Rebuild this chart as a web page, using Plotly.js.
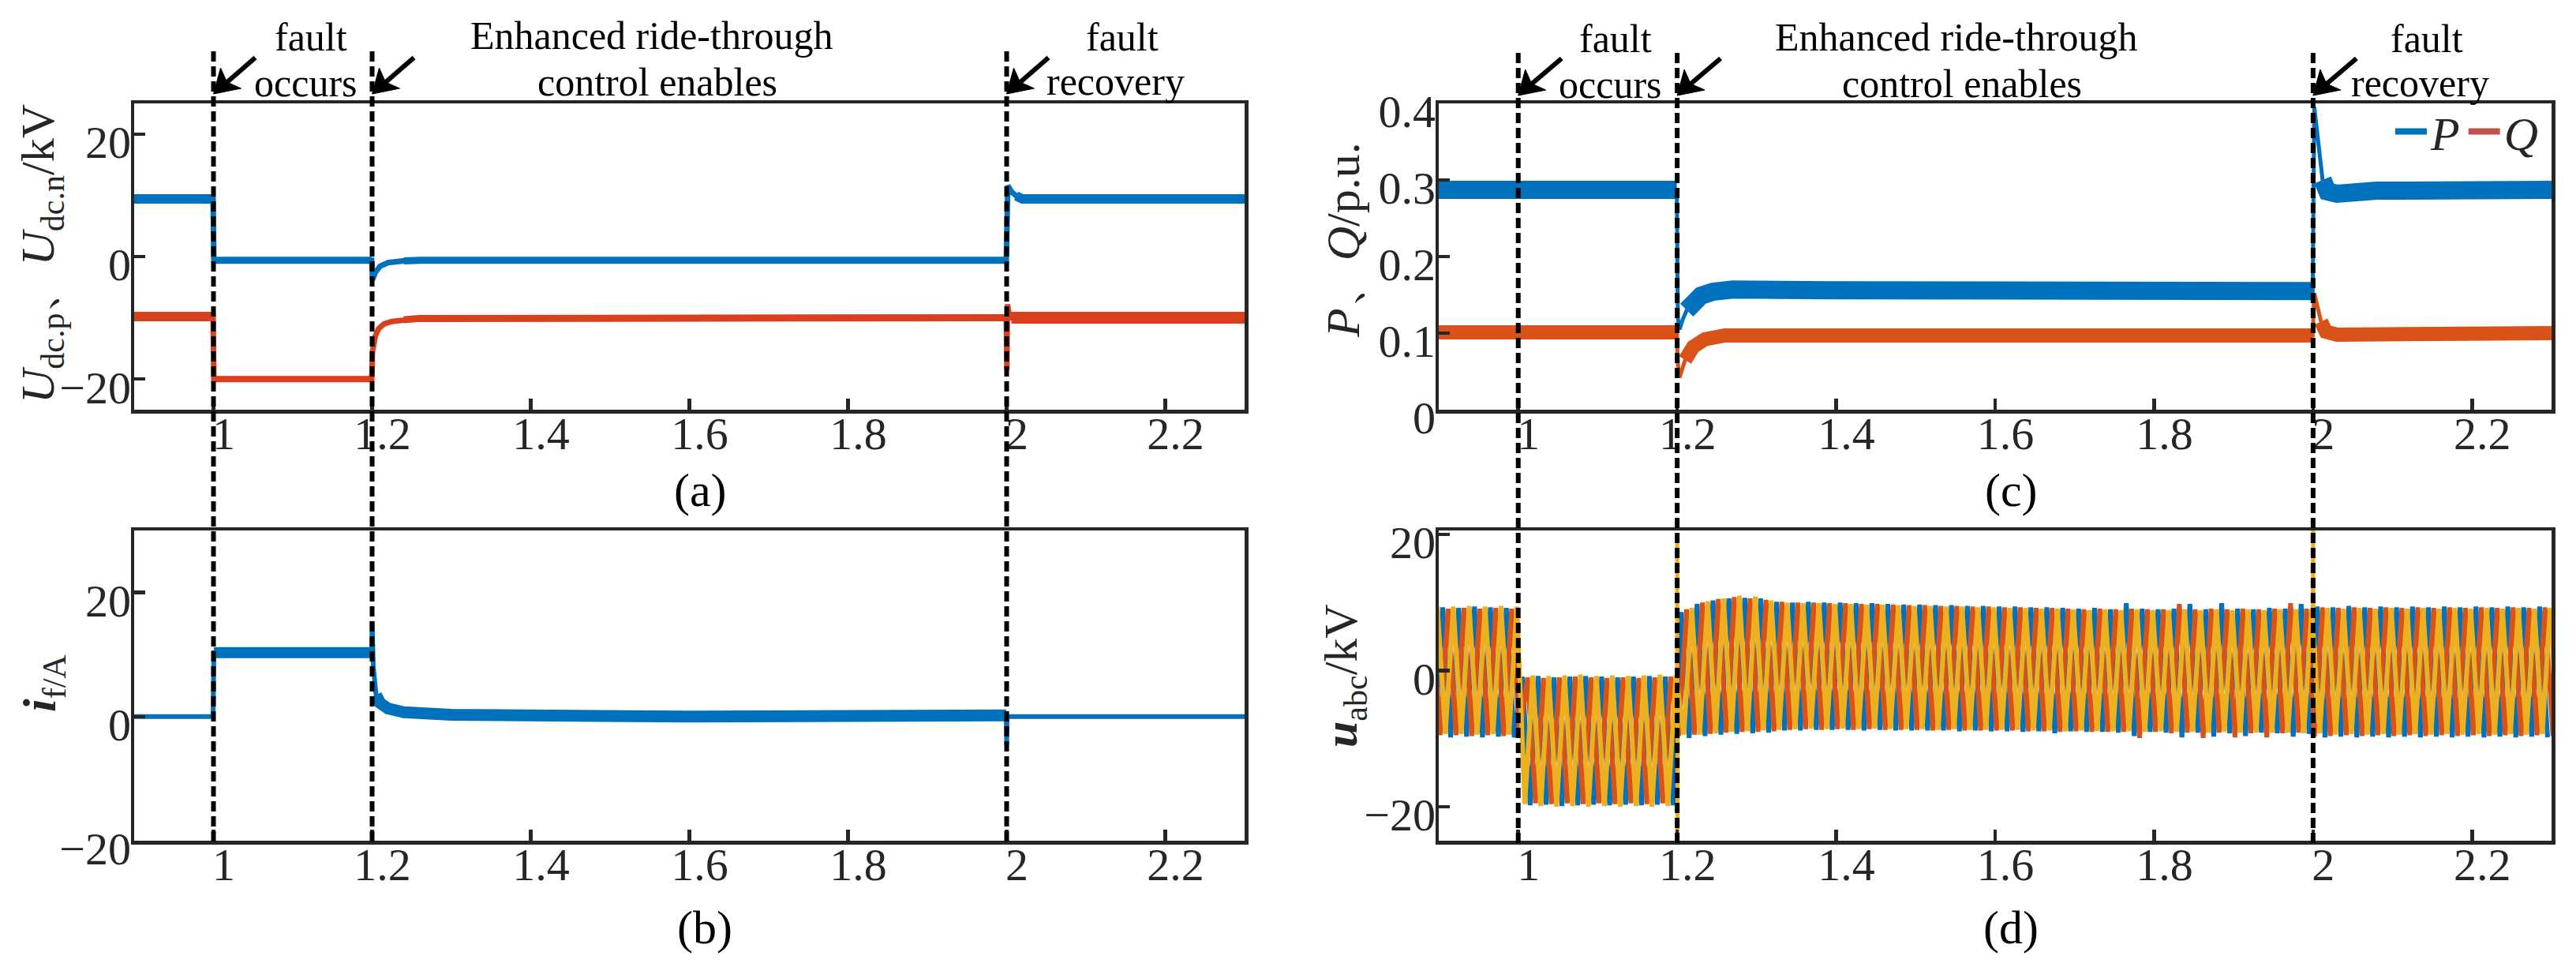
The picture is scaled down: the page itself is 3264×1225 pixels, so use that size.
<!DOCTYPE html>
<html><head><meta charset="utf-8">
<script src="https://cdn.plot.ly/plotly-3.0.1.min.js"></script>
<style>html,body{margin:0;padding:0;background:#fff}</style>
</head><body>
<div id="chart" style="width:3264px;height:1225px"></div>
<script>
// ================= DATA =================
// event instants (s): fault occurs, enhanced ride-through enabled, fault recovery
const eventTimes = [1.0, 1.2, 2.0];

// x axis ticks (time, s)
const xTickVals = [1, 1.2, 1.4, 1.6, 1.8, 2, 2.2];
const xTickText = ['1', '1.2', '1.4', '1.6', '1.8', '2', '2.2'];

// (a) DC pole voltages, kV
const udcNTime  = [0.9, 0.9995, 1.0005, 1.1995, 1.2005, 1.204, 1.21, 1.22, 1.24, 1.26, 1.9995, 2.0015, 2.006, 2.012, 2.02, 2.3];
const udcNValue = [9.4, 9.4, -0.6, -0.6, -3.8, -2.6, -1.6, -1.0, -0.7, -0.6, -0.6, 11.6, 10.6, 9.9, 9.4, 9.4];
const udcPTime  = [0.9, 0.9995, 1.0005, 1.1995, 1.2005, 1.204, 1.208, 1.215, 1.225, 1.24, 1.26, 1.9995, 2.0003, 2.001, 2.003, 2.006, 2.3];
const udcPValue = [-9.8, -9.8, -20.0, -20.0, -15.5, -13.0, -11.8, -11.0, -10.6, -10.3, -10.1, -10.0, -18.5, -7.8, -9.3, -10.0, -10.0];
const yTickA = [-20, 0, 20];
const yTickTextA = ['\u221220', '0', '20'];

// (b) fault current, A
const ifTime  = [0.9, 0.9995, 1.0005, 1.1995, 1.2, 1.2015, 1.205, 1.21, 1.22, 1.24, 1.3, 1.6, 1.9995, 2.0, 2.0005, 2.3];
const ifValue = [0, 0, 10.3, 10.3, 15.4, 8.0, 3.5, 2.2, 1.3, 0.7, 0.3, 0.0, 0.2, -4.5, 0, 0];
const yTickB = [-20, 0, 20];
const yTickTextB = ['\u221220', '0', '20'];

// (c) active / reactive power, p.u.
const pTime  = [0.9, 1.1995, 1.2008, 1.203, 1.207, 1.212, 1.22, 1.23, 1.245, 1.27, 1.4, 1.9995, 2.0015, 2.004, 2.008, 2.012, 2.018, 2.03, 2.05, 2.08, 2.3];
const pValue = [0.287, 0.287, 0.12, 0.105, 0.118, 0.13, 0.142, 0.149, 0.154, 0.157, 0.156, 0.155, 0.395, 0.37, 0.33, 0.30, 0.285, 0.282, 0.283, 0.286, 0.287];
const qTime  = [0.9, 1.1995, 1.2008, 1.203, 1.206, 1.21, 1.22, 1.235, 1.26, 1.9995, 2.0015, 2.005, 2.01, 2.016, 2.03, 2.3];
const qValue = [0.101, 0.101, 0.06, 0.042, 0.052, 0.065, 0.082, 0.092, 0.097, 0.097, 0.152, 0.135, 0.115, 0.102, 0.098, 0.1];
const yTickC = [0, 0.1, 0.2, 0.3, 0.4];
const yTickTextC = ['0', '0.1', '0.2', '0.3', '0.4'];

// (d) three-phase AC voltage, kV: half-cycle peak instants of phase a (s)
const uPeakTime = [
  0.885, 0.895,
  0.905, 0.915, 0.925, 0.935, 0.945, 0.955, 0.965, 0.975, 0.985, 0.995,
  1.005, 1.015, 1.025, 1.035, 1.045, 1.055, 1.065, 1.075, 1.085, 1.095,
  1.105, 1.115, 1.125, 1.135, 1.145, 1.155, 1.165, 1.175, 1.185, 1.195,
  1.205, 1.215, 1.225, 1.235, 1.245, 1.255, 1.265, 1.275, 1.285, 1.295,
  1.305, 1.315, 1.325, 1.335, 1.345, 1.355, 1.365, 1.375, 1.385, 1.395,
  1.405, 1.415, 1.425, 1.435, 1.445, 1.455, 1.465, 1.475, 1.485, 1.495,
  1.505, 1.515, 1.525, 1.535, 1.545, 1.555, 1.565, 1.575, 1.585, 1.595,
  1.605, 1.615, 1.625, 1.635, 1.645, 1.655, 1.665, 1.675, 1.685, 1.695,
  1.705, 1.715, 1.725, 1.735, 1.745, 1.755, 1.765, 1.775, 1.785, 1.795,
  1.805, 1.815, 1.825, 1.835, 1.845, 1.855, 1.865, 1.875, 1.885, 1.895,
  1.905, 1.915, 1.925, 1.935, 1.945, 1.955, 1.965, 1.975, 1.985, 1.995,
  2.005, 2.015, 2.025, 2.035, 2.045, 2.055, 2.065, 2.075, 2.085, 2.095,
  2.105, 2.115, 2.125, 2.135, 2.145, 2.155, 2.165, 2.175, 2.185, 2.195,
  2.205, 2.215, 2.225, 2.235, 2.245, 2.255, 2.265, 2.275, 2.285, 2.295
];
// phase lag of phases a, b, c behind phase a (s)
const phaseLag = [0, 0.0067, 0.0133];
// alternating crest / trough values of each phase (kV)
const uaPeak = [
  9.3, -9.8,
  9.3, -9.8, 9.2, -9.7, 9.4, -9.8, 9.3, -9.7, 9.2, -9.8,
  -0.9, -19.8, -0.8, -19.7, -1.0, -19.9, -0.9, -19.8, -0.8, -19.7,
  -0.9, -19.8, -1.0, -19.7, -0.9, -19.8, -0.8, -19.7, -0.9, -19.8,
  8.6, -9.9, 9.8, -9.6, 10.3, -9.4, 10.6, -9.3, 10.7, -9.2,
  10.6, -9.1, 10.1, -8.8, 10.0, -8.8, 10.1, -8.7, 10.0, -8.7,
  10.0, -8.7, 9.9, -8.8, 9.9, -8.7, 9.8, -8.8, 9.7, -8.8,
  9.7, -8.8, 9.6, -8.8, 9.6, -8.9, 9.5, -8.8, 9.5, -8.9,
  9.4, -8.9, 9.4, -9.0, 9.3, -8.9, 9.3, -9.2, 9.2, -8.9,
  9.1, -9.0, 9.2, -9.0, 9.0, -9.1, 9.9, -9.6, 9.1, -9.0,
  9.0, -9.1, 9.1, -9.8, 9.8, -9.1, 9.0, -9.7, 9.9, -9.2,
  9.1, -9.6, 9.0, -9.1, 9.2, -9.2, 9.1, -9.7, 9.8, -9.3,
  9.4, -9.8, 9.3, -9.7, 9.5, -9.8, 9.3, -9.7, 9.4, -9.8,
  9.3, -9.7, 9.4, -9.8, 9.3, -9.7, 9.4, -9.8, 9.3, -9.7,
  9.4, -9.8, 9.3, -9.7, 9.4, -9.8, 9.3, -9.7, 9.4, -9.8
];
const ubPeak = [
  9.2, -9.5,
  9.1, -9.5, 9.2, -9.6, 9.1, -9.5, 9.2, -9.6, 9.1, -9.4,
  -1.0, -19.5, -1.1, -19.6, -1.0, -19.5, -0.9, -19.6, -1.0, -19.5,
  -1.1, -19.6, -1.0, -19.5, -1.1, -19.6, -1.0, -19.5, -0.9, -9.6,
  9.0, -9.4, 10.0, -9.3, 10.5, -9.1, 10.8, -9.0, 10.6, -9.0,
  10.4, -8.9, 10.1, -8.7, 10.0, -8.6, 10.0, -8.7, 9.9, -8.6,
  9.9, -8.7, 9.8, -8.6, 9.8, -8.7, 9.7, -8.7, 9.6, -8.7,
  9.6, -8.8, 9.5, -8.7, 9.5, -8.8, 9.4, -8.8, 9.4, -8.8,
  9.3, -8.8, 9.3, -8.9, 9.2, -8.9, 9.2, -9.0, 9.1, -8.9,
  9.0, -9.0, 9.1, -9.0, 9.0, -9.0, 9.1, -9.9, 9.0, -9.0,
  9.0, -9.2, 9.8, -9.1, 9.0, -9.9, 9.1, -9.1, 9.0, -9.8,
  9.1, -9.2, 9.0, -9.8, 9.1, -9.2, 9.9, -9.1, 9.1, -9.7,
  9.3, -9.6, 9.2, -9.5, 9.3, -9.6, 9.2, -9.5, 9.3, -9.6,
  9.2, -9.5, 9.3, -9.6, 9.2, -9.5, 9.3, -9.6, 9.2, -9.5,
  9.3, -9.6, 9.2, -9.5, 9.3, -9.6, 9.2, -9.5, 9.3, -9.6
];
const ucPeak = [
  9.4, -9.3,
  9.4, -9.3, 9.5, -9.4, 9.4, -9.3, 9.5, -9.4, 9.4, -19.6,
  -0.7, -19.9, -0.8, -20.0, -0.7, -19.9, -0.6, -20.0, -0.8, -19.9,
  -0.7, -20.0, -0.8, -19.9, -0.7, -20.0, -0.6, -19.9, -0.7, -9.4,
  9.2, -9.4, 10.2, -9.2, 10.6, -9.0, 11.0, -8.9, 10.9, -8.8,
  10.3, -8.7, 10.0, -8.6, 9.9, -8.5, 9.9, -8.6, 9.8, -8.5,
  9.8, -8.6, 9.7, -8.5, 9.7, -8.6, 9.6, -8.6, 9.5, -8.6,
  9.5, -8.7, 9.4, -8.6, 9.4, -8.7, 9.3, -8.7, 9.3, -8.7,
  9.2, -8.7, 9.2, -8.8, 9.1, -8.8, 9.1, -8.9, 9.0, -8.8,
  8.9, -8.9, 9.0, -8.9, 8.9, -8.9, 9.0, -9.0, 8.9, -8.9,
  8.9, -9.0, 9.0, -9.0, 8.9, -9.1, 9.0, -9.0, 8.9, -9.1,
  9.0, -9.1, 8.9, -9.1, 9.0, -9.1, 9.0, -9.2, 9.0, -9.2,
  9.2, -9.4, 9.1, -9.3, 9.2, -9.4, 9.1, -9.3, 9.2, -9.4,
  9.1, -9.3, 9.2, -9.4, 9.1, -9.3, 9.2, -9.4, 9.1, -9.3,
  9.2, -9.4, 9.1, -9.3, 9.2, -9.4, 9.1, -9.3, 9.2, -9.4
];
// switching transients seen on the AC voltage
const uSpikeTime  = [1.1996, 1.2, 1.2004, 1.2008, null, 1.9996, 2.0, 2.0004];
const uSpikeValue = [-8, 19, -25, -5, null, 8, 20.6, 8];
const yTickD = [-20, 0, 20];
const yTickTextD = ['\u221220', '0', '20'];

// ================= STYLE / LAYOUT =================
const W = 3264, H = 1225;
const px = x => x / W;
const py = y => 1 - y / H;
const FONT = 'Liberation Serif';
const AXC = '#262626';
const BLUE = '#0072BD', RED_A = '#D8401E', ORANGE = '#D95319', YELLOW = '#EDB120';

function pick(t, v, t0, t1) {
  const x = [], y = [];
  for (let i = 0; i < t.length; i++) {
    if (t[i] !== null && t[i] >= t0 - 1e-9 && t[i] <= t1 + 1e-9) { x.push(t[i]); y.push(v[i]); }
  }
  return {x, y};
}
const traces = [];
function series(t, v, xa, ya, color, thin, bands) {
  traces.push({x: t, y: v, xaxis: xa, yaxis: ya, mode: 'lines', line: {color, width: thin},
               showlegend: false, hoverinfo: 'skip'});
  bands.forEach(b => {
    const s = pick(t, v, b[0], b[1]);
    traces.push({x: s.x, y: s.y, xaxis: xa, yaxis: ya, mode: 'lines', line: {color, width: b[2]},
                 showlegend: false, hoverinfo: 'skip'});
  });
}

// (a)
series(udcNTime, udcNValue, 'x', 'y', BLUE, 7, [[0.9, 0.9995, 12], [1.0005, 1.1995, 9], [1.24, 1.9995, 9], [2.012, 2.3, 12]]);
series(udcPTime, udcPValue, 'x', 'y', RED_A, 7, [[0.9, 0.9995, 12], [1.0005, 1.1995, 8], [1.24, 1.9995, 9], [2.006, 2.3, 15]]);
// (b)
series(ifTime, ifValue, 'x2', 'y2', BLUE, 6, [[1.0005, 1.1995, 14], [1.205, 1.9995, 15]]);
// (c)
series(pTime, pValue, 'x3', 'y3', BLUE, 5, [[0.9, 1.1995, 23], [1.212, 1.9995, 23], [2.012, 2.3, 23]]);
series(qTime, qValue, 'x3', 'y3', ORANGE, 5, [[0.9, 1.1995, 18], [1.21, 1.9995, 18], [2.01, 2.3, 18]]);
// (d)
[[uaPeak, BLUE], [ubPeak, ORANGE], [ucPeak, YELLOW]].forEach((p, i) => {
  traces.push({x: uPeakTime.map(t => t + phaseLag[i]), y: p[0], xaxis: 'x4', yaxis: 'y4', mode: 'lines',
               line: {color: p[1], width: 6}, showlegend: false, hoverinfo: 'skip'});
});
traces.push({x: uSpikeTime, y: uSpikeValue, xaxis: 'x4', yaxis: 'y4', mode: 'lines',
             line: {color: YELLOW, width: 5}, showlegend: false, hoverinfo: 'skip', connectgaps: false});
// legend keys for (c)
traces.push({x: [null], y: [null], xaxis: 'x3', yaxis: 'y3', mode: 'lines', name: '<i>P</i>',
             line: {color: BLUE, width: 8}, showlegend: true, hoverinfo: 'skip'});
traces.push({x: [null], y: [null], xaxis: 'x3', yaxis: 'y3', mode: 'lines', name: '<i>Q</i>',
             line: {color: '#C0504D', width: 8}, showlegend: true, hoverinfo: 'skip'});

const LEFT = [170, 1577], RIGHT = [1823, 3233];
const TOP = [131, 519], BOT = [672, 1065];

function xAxis(dom, anchor) {
  return {domain: [px(dom[0]), px(dom[1])], anchor, range: [0.9, 2.3],
    tickmode: 'array', tickvals: xTickVals, ticktext: xTickText,
    ticks: 'inside', ticklen: 14, tickwidth: 4.5, tickcolor: AXC,
    showline: true, linewidth: 4.5, linecolor: AXC, mirror: true,
    showgrid: false, zeroline: false, fixedrange: true,
    tickfont: {family: FONT, size: 58, color: AXC}, ticklabelshift: 13, ticklabelstandoff: -24};
}
function yAxis(dom, anchor, range, vals, text) {
  return {domain: [py(dom[1]), py(dom[0])], anchor, range,
    tickmode: 'array', tickvals: vals, ticktext: text,
    ticks: 'inside', ticklen: 14, tickwidth: 4.5, tickcolor: AXC,
    showline: true, linewidth: 4.5, linecolor: AXC, mirror: true,
    showgrid: false, zeroline: false, fixedrange: true,
    tickfont: {family: FONT, size: 58, color: AXC}, ticklabelshift: 10, ticklabelstandoff: -12};
}

// dashed event markers and arrows
const shapes = [];
const markerSpan = [[LEFT, 'x', 63, 1066, 119, [53, 46]], [RIGHT, 'x3', 66, 1068, 121, [55, 47]]];
markerSpan.forEach(m => {
  eventTimes.forEach(t => {
    shapes.push({type: 'line', xref: m[1], yref: 'paper', x0: t, x1: t, y0: py(m[3]), y1: py(m[2]),
                 line: {color: '#000', width: 6, dash: '13px,6px'}, layer: 'above'});
    shapes.push({type: 'line', xref: m[1], yref: 'paper', xsizemode: 'pixel', ysizemode: 'pixel',
                 xanchor: t, yanchor: py(m[4]), x0: 15, y0: 13, x1: m[5][0], y1: m[5][1],
                 line: {color: '#000', width: 6}, layer: 'above'});
    shapes.push({type: 'path', xref: m[1], yref: 'paper', xsizemode: 'pixel', ysizemode: 'pixel',
                 xanchor: t, yanchor: py(m[4]), path: 'M0,0L9,33L17,15L35,7Z',
                 fillcolor: '#000', line: {color: '#000', width: 1}, layer: 'above'});
  });
});

const annotations = [];
function label(text, x, y, size, angle) {
  annotations.push({xref: 'paper', yref: 'paper', x: px(x), y: py(y), xanchor: 'center', yanchor: 'middle',
                    text, textangle: angle || 0, showarrow: false,
                    font: {family: FONT, size: size, color: angle ? AXC : '#000'}});
}
[[0, 0], [1653, 2]].forEach(o => {
  label('fault', 394 + o[0], 47 + o[1], 50);
  label('occurs', 387 + o[0], 105 + o[1], 50);
  label('Enhanced ride-through', 826 + o[0], 45 + o[1], 50);
  label('control enables', 833 + o[0], 104 + o[1], 50);
  label('fault', 1422 + o[0], 47 + o[1], 50);
  label('recovery', 1413 + o[0], 103 + o[1], 50);
});
// panel captions
label('(a)', 888, 621, 60);
label('(b)', 893, 1175, 60);
label('(c)', 2548, 621, 60);
label('(d)', 2548, 1175, 60);
// y-axis titles (subscripts as smaller, lowered spans)
const sub = s => '<span style="font-size:42px;baseline-shift:-13px">' + s + '</span>';
label('<i>U</i>' + sub('dc.p') + '\u3001<i>U</i>' + sub('dc.n') + '/kV', 52, 322, 60, -90);
label('<b><i>i</i></b>' + sub('f/A'), 54, 866, 60, -90);
label('<i>P</i>\u3001<i>Q</i>/p.u.', 1702, 304, 60, -90);
label('<b><i>u</i></b>' + sub('abc') + '/kV', 1703, 856, 60, -90);

const layout = {
  width: W, height: H, margin: {l: 0, r: 0, t: 0, b: 0},
  paper_bgcolor: '#fff', plot_bgcolor: '#fff',
  font: {family: FONT, color: AXC},
  showlegend: true,
  legend: {orientation: 'h', x: px(3030), y: py(121), xanchor: 'left', yanchor: 'top',
           font: {family: FONT, size: 60, color: AXC}, bgcolor: 'rgba(0,0,0,0)', borderwidth: 0,
           itemwidth: 40, itemclick: false, itemdoubleclick: false, tracegroupgap: 0},
  xaxis: xAxis(LEFT, 'y'),
  yaxis: yAxis(TOP, 'x', [-25, 25], yTickA, yTickTextA),
  xaxis2: xAxis(LEFT, 'y2'),
  yaxis2: yAxis(BOT, 'x2', [-20, 30], yTickB, yTickTextB),
  xaxis3: xAxis(RIGHT, 'y3'),
  yaxis3: yAxis(TOP, 'x3', [0, 0.4], yTickC, yTickTextC),
  xaxis4: xAxis(RIGHT, 'y4'),
  yaxis4: yAxis(BOT, 'x4', [-25, 20.6], yTickD, yTickTextD),
  shapes, annotations
};

Plotly.newPlot('chart', traces, layout, {displayModeBar: false, staticPlot: true});
</script>
</body></html>
